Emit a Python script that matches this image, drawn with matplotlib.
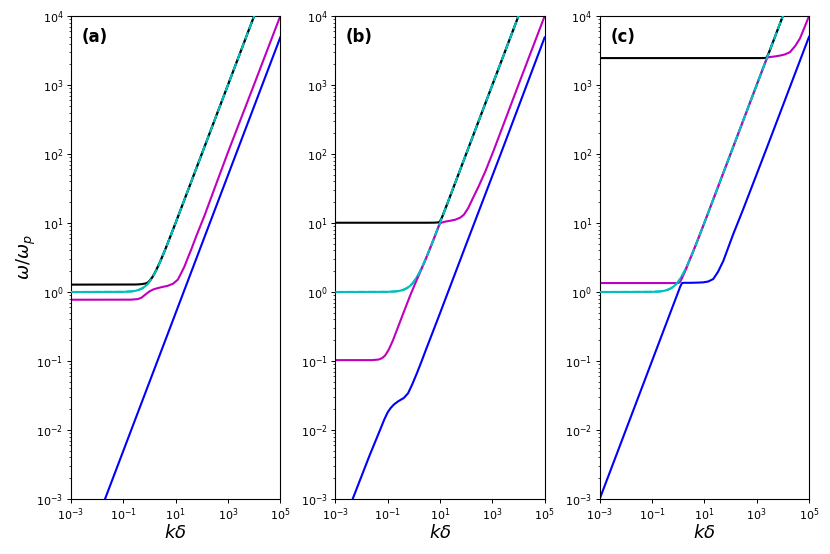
import matplotlib
matplotlib.use('Agg')
import matplotlib.pyplot as plt

# light mode, same in all three panels
cyan_x = [1e-3, 0.1, 0.2, 0.3, 0.4, 0.55, 0.7, 0.85, 1.0, 1.2, 1.55, 2.0, 2.5, 3.0, 4.0, 5.0, 7.0, 10.0, 1.2e4]
cyan_y = [1.0, 1.005, 1.02, 1.044, 1.077, 1.14, 1.22, 1.31, 1.414, 1.56, 1.84, 2.236, 2.69, 3.162, 4.12, 5.10, 7.07, 10.05, 1.2e4]

# panel (a)
black_a_x = [1e-3, 0.3, 0.5, 0.7, 0.85, 1.0, 1.3, 1.7, 2.5, 4.0, 10.0, 1.2e4]
black_a_y = [1.28, 1.285, 1.30, 1.33, 1.37, 1.45, 1.65, 1.98, 2.7, 4.12, 10.05, 1.2e4]
magenta_a_x = [1e-3, 0.2, 0.36, 0.5, 0.7, 1.0, 1.4, 2.08, 3.0, 5.0, 8.0, 12.1, 16.0, 21.8, 30.0, 39.2, 60.0, 127.0, 300.0, 1e3, 1e4, 1e5]
magenta_a_y = [0.773, 0.775, 0.79, 0.83, 0.92, 1.02, 1.09, 1.14, 1.18, 1.23, 1.32, 1.51, 1.85, 2.35, 3.2, 4.1, 6.3, 12.8, 31.0, 106.0, 1020.0, 1e4]
blue_a_x = [0.01, 2.95, 1e5]
blue_a_y = [5e-4, 0.146, 4.9e3]

# panel (b)
black_b_x = [1e-3, 3.0, 6.0, 8.4, 9.6, 10.4, 11.8, 15.0, 20.0, 1.2e4]
black_b_y = [10.1, 10.1, 10.12, 10.2, 10.4, 10.9, 12.0, 15.1, 20.0, 1.2e4]
magenta_b_x = [1e-3, 0.025, 0.045, 0.061, 0.08, 0.11, 0.16, 0.356, 0.7, 1.15, 1.6, 2.1, 2.79, 4.0, 5.0, 7.0, 9.0, 10.0, 12.0, 16.3, 25.0, 39.0, 60.0, 82.0, 120.0, 170.0, 300.0, 552.0, 1150.0, 1e4, 1e5]
magenta_b_y = [0.103, 0.103, 0.105, 0.110, 0.120, 0.146, 0.20, 0.443, 0.86, 1.35, 1.80, 2.28, 2.94, 4.12, 5.10, 7.07, 9.06, 9.9, 10.2, 10.5, 10.8, 11.2, 12.0, 13.2, 16.5, 21.8, 34.0, 57.0, 115.0, 1010.0, 1e4]
blue_b_x = [0.003, 0.0046, 0.02, 0.05, 0.075, 0.1, 0.13, 0.171, 0.25, 0.413, 0.6, 0.86, 1.3, 2.0, 2.79, 9.0, 100.0, 2400.0, 1e5]
blue_b_y = [6.5e-4, 1e-3, 0.0042, 0.0098, 0.0143, 0.0180, 0.0208, 0.0233, 0.026, 0.0291, 0.034, 0.0454, 0.066, 0.100, 0.140, 0.443, 4.9, 115.0, 4.9e3]

# panel (c)
black_c_x = [1e-3, 1500.0, 2100.0, 2400.0, 2700.0, 3200.0, 1.2e4]
black_c_y = [2460.0, 2460.0, 2470.0, 2500.0, 2750.0, 3200.0, 1.2e4]
magenta_c_x = [1e-3, 0.9, 1.05, 1.15, 1.3, 1.6, 2.08, 2.5, 3.0, 5.0, 10.0, 100.0, 1000.0, 2000.0, 2300.0, 2450.0, 2600.0, 3000.0, 5000.0, 8000.0, 1.2e4, 1.87e4, 3.0e4, 4.52e4, 7.0e4, 1e5]
magenta_c_y = [1.35, 1.35, 1.36, 1.39, 1.50, 1.78, 2.22, 2.69, 3.162, 5.10, 10.05, 100.0, 1000.0, 2000.0, 2290.0, 2420.0, 2500.0, 2540.0, 2600.0, 2680.0, 2780.0, 3000.0, 3700.0, 4750.0, 7100.0, 1e4]
blue_c_x = [1e-3, 1.2, 1.4, 1.7, 3.0, 6.0, 9.0, 14.0, 21.8, 33.0, 52.6, 80.0, 127.0, 200.0, 300.0, 1000.0, 2400.0, 1e5]
blue_c_y = [1e-3, 1.2, 1.35, 1.36, 1.36, 1.37, 1.38, 1.42, 1.54, 1.95, 2.8, 4.3, 6.9, 10.6, 15.6, 51.0, 121.0, 5.0e3]

panels = [
    ('(a)', black_a_x, black_a_y, magenta_a_x, magenta_a_y, blue_a_x, blue_a_y),
    ('(b)', black_b_x, black_b_y, magenta_b_x, magenta_b_y, blue_b_x, blue_b_y),
    ('(c)', black_c_x, black_c_y, magenta_c_x, magenta_c_y, blue_c_x, blue_c_y),
]

fig, axes = plt.subplots(1, 3, figsize=(8.3, 5.54), dpi=100)
plt.subplots_adjust(left=0.0855, right=0.9747, bottom=0.0993, top=0.971, wspace=0.263)

for ax, (label, bx, by, mx, my, ux, uy) in zip(axes, panels):
    ax.loglog(cyan_x, cyan_y, 'c', lw=1.5, zorder=1)
    ax.loglog(bx, by, 'k', lw=1.5, zorder=2)
    ax.loglog(mx, my, 'm', lw=1.5, zorder=2)
    ax.loglog(ux, uy, 'b', lw=1.5, zorder=2)
    ax.loglog(cyan_x, cyan_y, 'c--', lw=1.5, zorder=3)
    ax.set_xlim(1e-3, 1e5)
    ax.set_ylim(1e-3, 1e4)
    ax.set_xticks([1e-3, 1e-1, 1e1, 1e3, 1e5])
    ax.tick_params(which='major', labelsize=8, length=3, width=0.7, pad=2.5)
    ax.tick_params(which='minor', length=1.8, width=0.5)
    ax.set_xlabel(r'$k\delta$', fontsize=13, labelpad=0.5)
    ax.text(0.05, 0.975, label, transform=ax.transAxes, fontsize=12,
            fontweight='bold', va='top', ha='left')

axes[0].set_ylabel(r'$\omega/\omega_p$', fontsize=13, labelpad=-1)

plt.savefig('out.png', dpi=100)
